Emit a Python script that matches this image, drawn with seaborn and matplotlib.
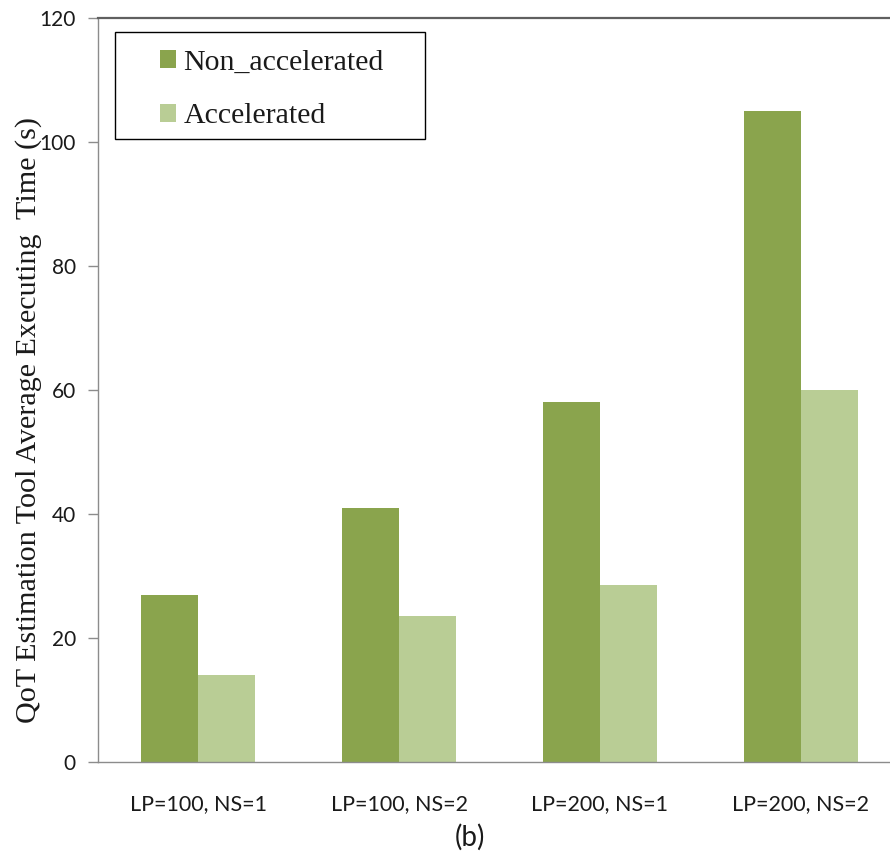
#Bar chart of QoT estimation tool execution time, accelerated vs non accelerated
import numpy as np
import pandas as pd
import matplotlib
matplotlib.use('Agg')
import matplotlib.pyplot as plt
import seaborn as sns
from matplotlib.patches import Patch, Rectangle

configs = ['LP=100, NS=1', 'LP=100, NS=2', 'LP=200, NS=1', 'LP=200, NS=2']
non_accelerated = [27, 41, 58, 105]
accelerated = [14, 23.5, 28.5, 60]
series_names = ['Non_accelerated', 'Accelerated']
y_ticks = [0, 20, 40, 60, 80, 100, 120]

colors = ['#8AA44D', '#B9CD95']

df = pd.DataFrame({
    'config': configs * 2,
    'series': [series_names[0]] * len(configs) + [series_names[1]] * len(configs),
    'time': non_accelerated + accelerated,
})

sns.set_style('white')
plt.rcParams['font.family'] = ['Lato', 'DejaVu Sans']

fig = plt.figure(figsize=(8.9, 8.58), dpi=100)
# axes runs a bit past the right edge, as in the original
ax = fig.add_axes([98/890, 96/858, 803/890, 744/858])

sns.barplot(data=df, x='config', y='time', hue='series', order=configs,
            hue_order=series_names, palette=colors, width=0.567,
            saturation=1, linewidth=0, ax=ax, legend=False)

ax.set_xlim(-0.5, len(configs) - 0.5)
ax.set_ylim(0, 120)
ax.set_yticks(y_ticks)
ax.set_xticks(np.arange(len(configs)))
ax.set_xticklabels(configs, fontsize=15.5, color='#1a1a1a')
ax.set_xticks(np.arange(-0.5, len(configs)), minor=True)
ax.tick_params(axis='x', which='major', length=0, pad=23)
ax.tick_params(axis='x', which='minor', length=7, direction='out', color='#8c8c8c', width=1)
ax.tick_params(axis='y', length=7, direction='out', color='#8c8c8c', width=1,
               labelsize=15, labelcolor='#1a1a1a', pad=9, left=True)
ax.set_xlabel('')

ax.set_ylabel('QoT Estimation Tool Average Executing  Time (s)', family='Liberation Serif',
              fontsize=21.7, color='#1a1a1a', va='center')
ax.yaxis.set_label_coords(-0.087, 0.4597)

for side in ['left', 'bottom']:
    ax.spines[side].set_color('#8c8c8c')
    ax.spines[side].set_linewidth(1)
ax.spines['top'].set_color('#606060')
ax.spines['top'].set_linewidth(1.6)
ax.spines['right'].set_visible(False)

# legend entries without frame, box drawn separately (wider side padding than matplotlib allows)
handles = [Patch(facecolor=c, edgecolor='none') for c in colors]
leg = ax.legend(handles, series_names, loc='upper left', bbox_to_anchor=(0.0772, 0.957),
                borderaxespad=0, borderpad=0, frameon=False,
                prop={'family': 'Liberation Serif', 'size': 21.5},
                handlelength=0.55, handleheight=0.55, handletextpad=0.23,
                labelspacing=0.92)
for t in leg.get_texts():
    t.set_color('#1a1a1a')
ax.add_patch(Rectangle((0.0212, 0.8374), 0.386, 0.1438, transform=ax.transAxes,
                       fill=False, edgecolor='black', linewidth=1, zorder=5))

fig.text(470/890, 1 - 837/858, '(b)', ha='center', va='center', fontsize=20, color='#1a1a1a')

fig.savefig('out.png', dpi=100)
